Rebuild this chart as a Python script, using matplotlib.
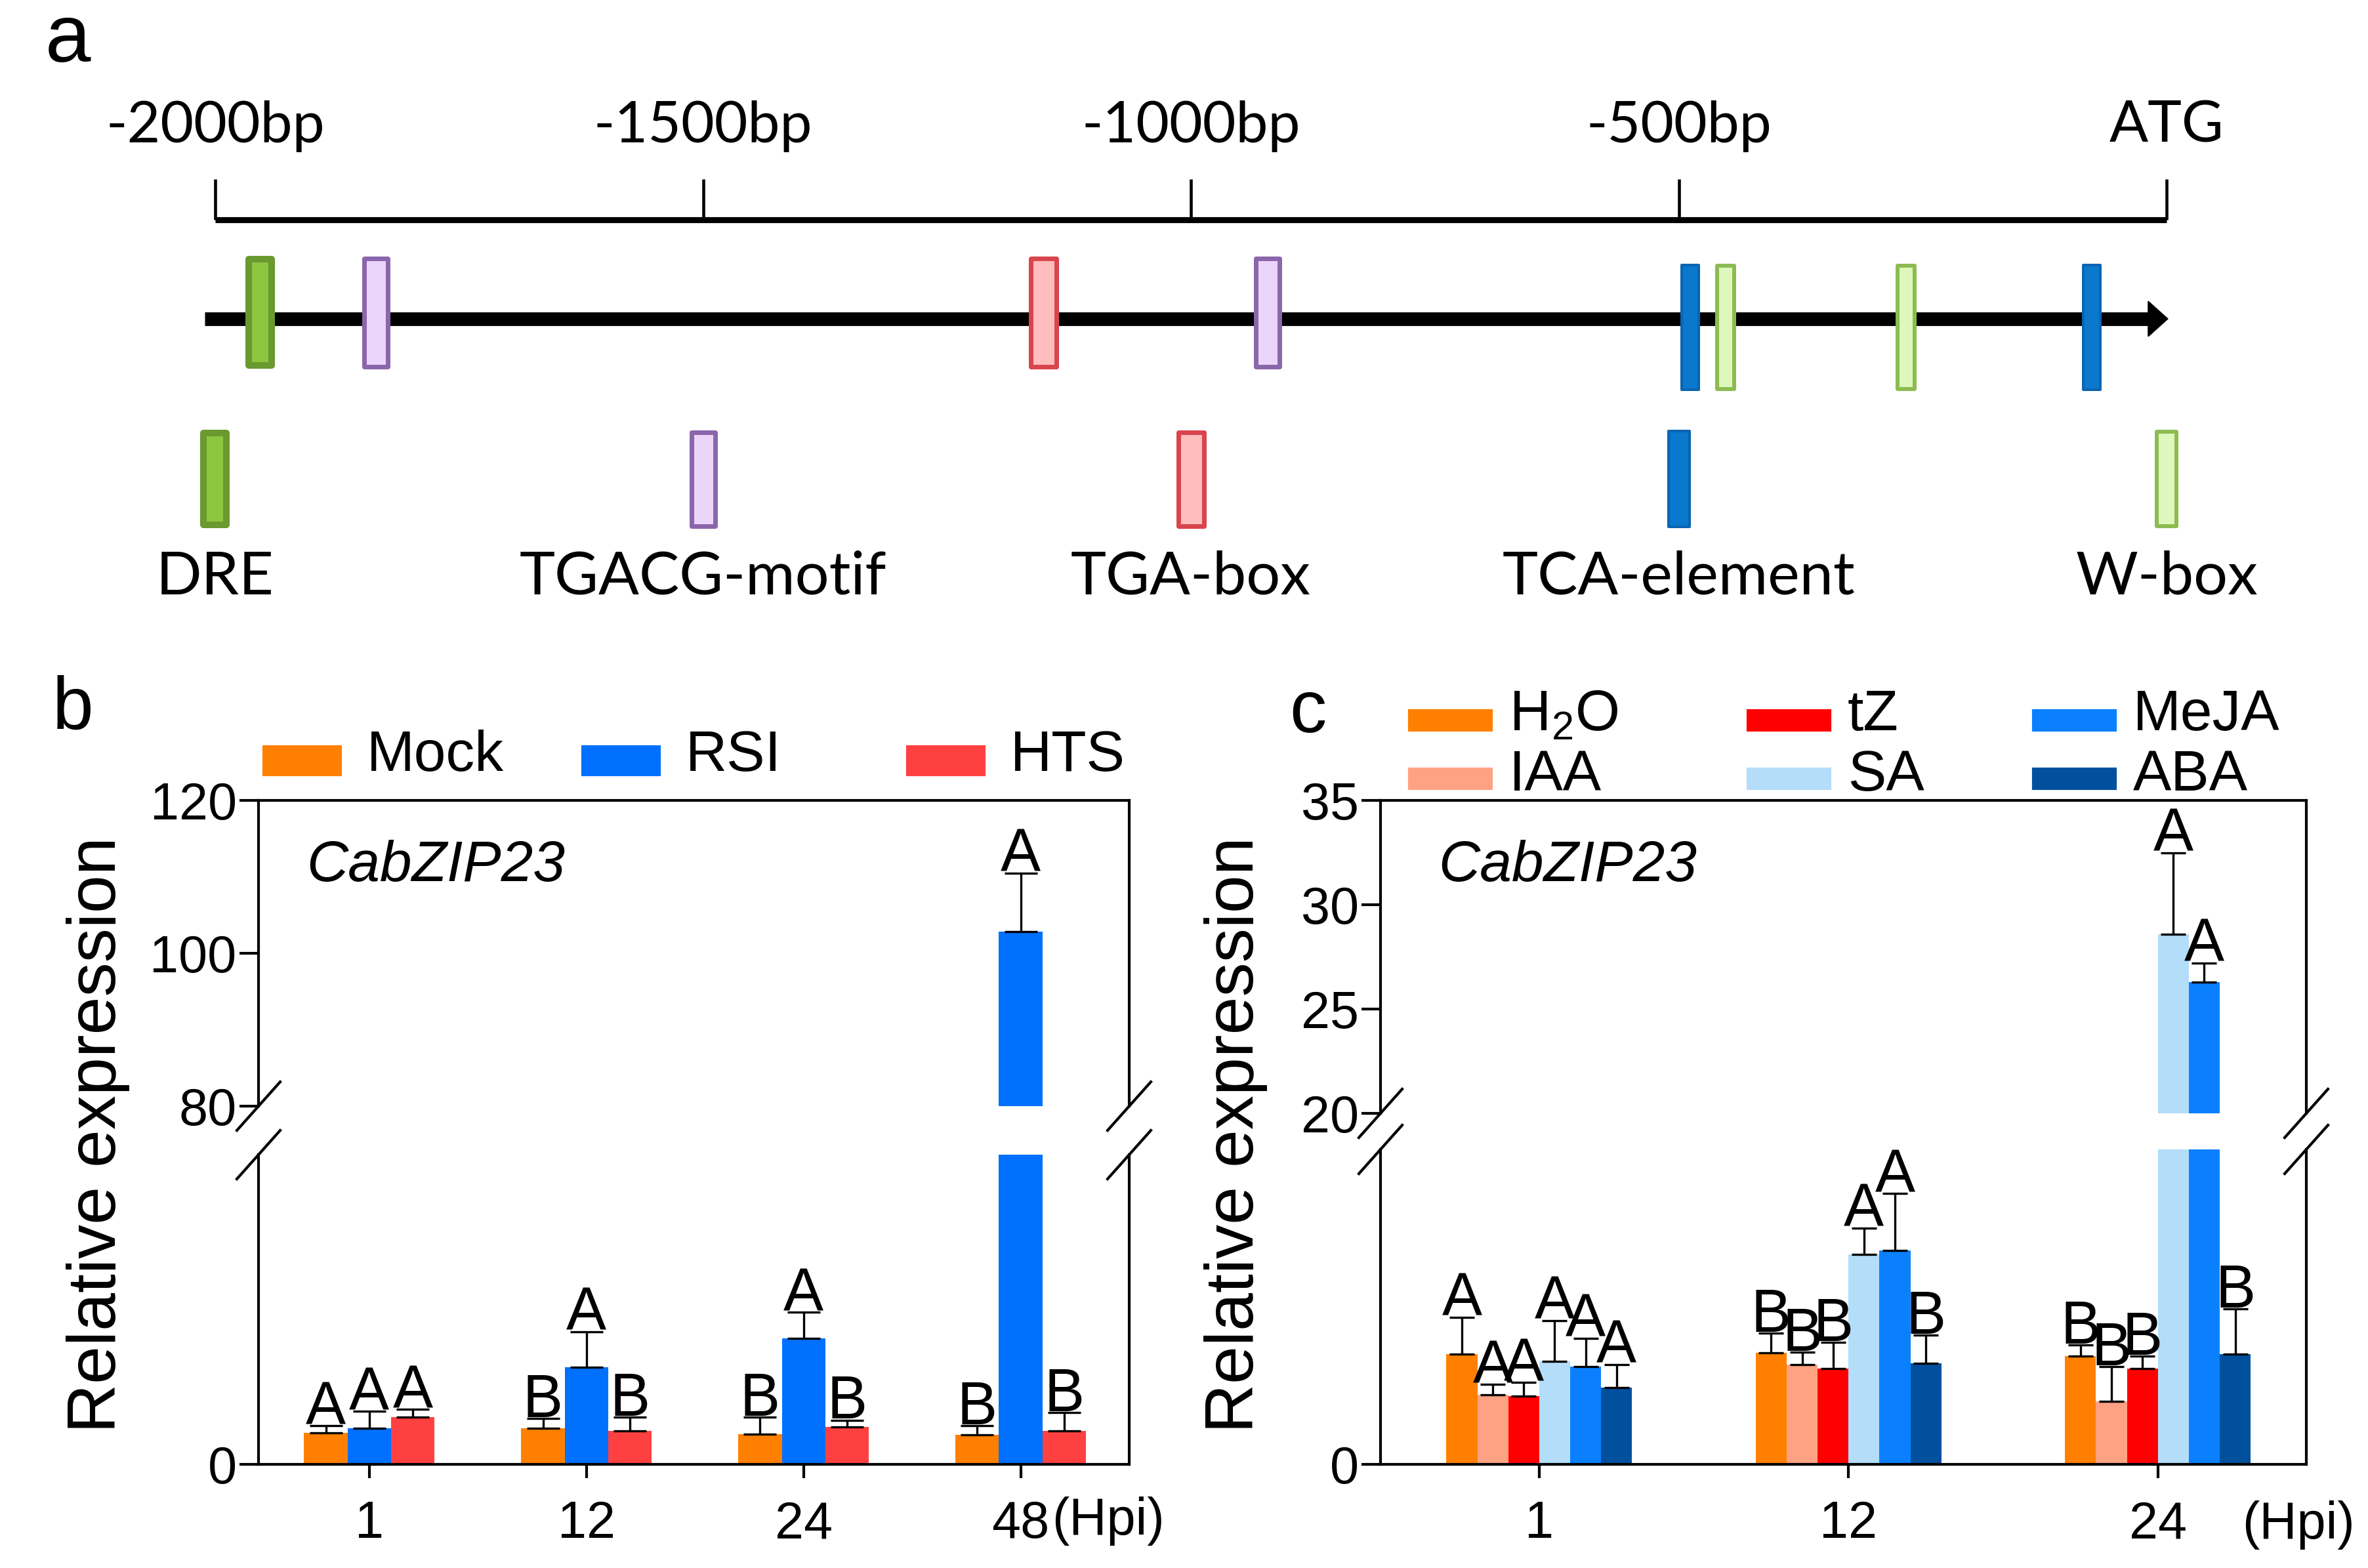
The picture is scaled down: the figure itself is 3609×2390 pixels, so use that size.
"""Promoter cis-elements of CabZIP23 and its relative expression (panels a-c)."""

import matplotlib
matplotlib.use("Agg")
import matplotlib.pyplot as plt
import numpy as np
from matplotlib.patches import Rectangle

plt.rcParams["font.family"] = ["Liberation Sans", "DejaVu Sans"]
plt.rcParams["mathtext.fontset"] = "custom"
plt.rcParams["mathtext.rm"] = "Liberation Sans"

W, H, DPI = 3609, 2390, 300

# ---- panel a: promoter map (bp upstream of ATG)
scale_ticks = [-2000, -1500, -1000, -500, 0]
scale_labels = ["-2000bp", "-1500bp", "-1000bp", "-500bp", "ATG"]
element_pos = [-1954, -1835, -1151, -921, -488, -452, -267, -77]
element_kind = ["DRE", "TGACG-motif", "TGA-box", "TGACG-motif",
                "TCA-element", "W-box", "W-box", "TCA-element"]
legend_kinds = ["DRE", "TGACG-motif", "TGA-box", "TCA-element", "W-box"]

# ---- panel b: RSI / HTS time course
b_times = ["1", "12", "24", "48"]
b_series = ["Mock", "RSI", "HTS"]
b_mean = {
    "Mock": [1.01, 1.16, 0.97, 0.95],
    "RSI": [1.16, 3.14, 4.06, 102.8],
    "HTS": [1.52, 1.07, 1.20, 1.07],
}
b_sd = {
    "Mock": [0.23, 0.33, 0.55, 0.29],
    "RSI": [0.55, 1.15, 0.85, 7.7],
    "HTS": [0.25, 0.45, 0.23, 0.61],
}
b_letters = {
    "Mock": ["A", "B", "B", "B"],
    "RSI": ["A", "A", "A", "A"],
    "HTS": ["A", "B", "B", "B"],
}

# ---- panel c: hormone treatments
c_times = ["1", "12", "24"]
c_series = ["H2O", "IAA", "tZ", "SA", "MeJA", "ABA"]
c_mean = {
    "H2O": [1.05, 1.06, 1.03],
    "IAA": [0.66, 0.95, 0.60],
    "tZ": [0.65, 0.91, 0.91],
    "SA": [0.98, 2.00, 28.6],
    "MeJA": [0.93, 2.04, 26.3],
    "ABA": [0.73, 0.96, 1.05],
}
c_sd = {
    "H2O": [0.35, 0.19, 0.11],
    "IAA": [0.10, 0.12, 0.33],
    "tZ": [0.13, 0.25, 0.12],
    "SA": [0.39, 0.25, 3.9],
    "MeJA": [0.27, 0.54, 0.9],
    "ABA": [0.22, 0.27, 0.43],
}
c_letters = {
    "H2O": ["A", "B", "B"],
    "IAA": ["A", "B", "B"],
    "tZ": ["A", "B", "B"],
    "SA": ["A", "A", "A"],
    "MeJA": ["A", "A", "A"],
    "ABA": ["A", "B", "B"],
}

B_COLORS = {"Mock": "#FF8000", "RSI": "#0070FF", "HTS": "#FF4040"}
C_COLORS = {"H2O": "#FF8000", "IAA": "#FFA283", "tZ": "#FF0000",
            "SA": "#B3DDF9", "MeJA": "#0A80FF", "ABA": "#00509E"}
C_LABELS = {"H2O": r"H$_{\rm 2}$O"}

ELEMENT_STYLE = {
    # width (px), top, bottom (px), face, edge, edge width (px)
    "DRE": (45, 390, 562, "#8DC63F", "#6A992F", 10),
    "TGACG-motif": (43, 390, 562, "#EBD5FA", "#8B66AC", 7),
    "TGA-box": (46, 390, 562, "#FFBDBD", "#D8454C", 7),
    "TCA-element": (30, 402, 596, "#0A78CC", "#0B65B0", 4),
    "W-box": (32, 402, 596, "#DDF7BD", "#8DBB52", 6),
}

PX_PER_BP = (3302 - 328) / 2000.0


def px2pt(px):
    return px * 72.0 / DPI


def fig_rect(x0, y0, x1, y1):
    return [x0 / W, 1 - y1 / H, (x1 - x0) / W, (y1 - y0) / H]


def fig_xy(x, y):
    return x / W, 1 - y / H


def draw_promoter(fig):
    ax = fig.add_axes([0, 1 - 950 / H, 1, 950 / H])
    ax.set_xlim(-2000 - 328 / PX_PER_BP, -2000 + (W - 328) / PX_PER_BP)
    ax.set_ylim(950, 0)
    ax.axis("off")

    ax.plot([scale_ticks[0], scale_ticks[-1]], [335, 335], color="k", lw=2.2,
            solid_capstyle="butt")
    ax.vlines(scale_ticks, 273, 335, color="k", lw=1.1)
    for x, lab in zip(scale_ticks, scale_labels):
        ax.text(x, 192, lab, ha="center", va="center", fontsize=21, family="Lato")

    ax.plot([-2011, -18], [486, 486], color="k", lw=5.0, solid_capstyle="butt")
    ax.annotate("", xy=(2, 486), xytext=(-22, 486),
                arrowprops=dict(arrowstyle="-|>,head_length=0.5,head_width=0.45",
                                mutation_scale=14, color="k", lw=0.5,
                                shrinkA=0, shrinkB=0))

    for pos, kind in zip(element_pos, element_kind):
        w, top, bot, face, edge, ew = ELEMENT_STYLE[kind]
        wd = (w - ew) / PX_PER_BP
        ax.add_patch(Rectangle((pos - wd / 2, top + ew / 2), wd, bot - top - ew,
                               facecolor=face, edgecolor=edge, lw=px2pt(ew),
                               joinstyle="round", zorder=3))

    for x, kind in zip(scale_ticks, legend_kinds):
        w, _, _, face, edge, ew = ELEMENT_STYLE[kind]
        w = max(w, 36) if kind != "DRE" else w
        wd = (w - ew) / PX_PER_BP
        ax.add_patch(Rectangle((x - wd / 2, 655 + ew / 2), wd, 150 - ew,
                               facecolor=face, edgecolor=edge, lw=px2pt(ew),
                               joinstyle="round", zorder=3))
        ax.text(x, 880, kind, ha="center", va="center", fontsize=22, family="Lato")


def break_marks(ax, at_bottom, wpx, hpx):
    dx, dy = 33 / wpx, 37 / hpx
    y = 0 if at_bottom else 1
    for x in (0, 1):
        ax.plot([x - dx, x + dx], [y - dy, y + dy], transform=ax.transAxes,
                color="k", lw=1.0, clip_on=False)


def draw_broken_bars(fig, box, times, series, means, sds, letters, colors,
                     lower_max, upper_lim, upper_ticks, width, xlim, capsize):
    x0, y_top, x1, y_ub, y_lt, y_bot = box
    ax_up = fig.add_axes(fig_rect(x0, y_top, x1, y_ub))
    ax_lo = fig.add_axes(fig_rect(x0, y_lt, x1, y_bot))
    n = len(series)
    xs = np.arange(len(times))
    for ax in (ax_up, ax_lo):
        for i, s in enumerate(series):
            xi = xs + (i - (n - 1) / 2) * width
            ax.bar(xi, means[s], width, color=colors[s], zorder=2)
            ax.errorbar(xi, means[s], yerr=[np.zeros(len(xs)), sds[s]], fmt="none",
                        ecolor="k", elinewidth=0.8, capsize=capsize, capthick=0.8,
                        zorder=3)
        ax.set_xlim(*xlim)
        for sp in ax.spines.values():
            sp.set_linewidth(1.0)
        ax.tick_params(axis="y", direction="out", length=7, width=1.0,
                       labelsize=19, pad=1)
    ax_up.set_ylim(*upper_lim)
    ax_lo.set_ylim(0, lower_max)
    ax_up.set_yticks(upper_ticks)
    ax_lo.set_yticks([0])
    ax_up.spines["bottom"].set_visible(False)
    ax_lo.spines["top"].set_visible(False)
    ax_up.set_xticks([])
    ax_lo.set_xticks(xs)
    ax_lo.set_xticklabels(times)
    ax_lo.tick_params(axis="x", direction="out", length=5, width=1.0,
                      labelsize=19, pad=8)

    for i, s in enumerate(series):
        for j in range(len(xs)):
            xi = xs[j] + (i - (n - 1) / 2) * width
            top = means[s][j] + sds[s][j]
            ax = ax_up if top > lower_max else ax_lo
            ax.annotate(letters[s][j], (xi, top), xytext=(0, 0.5),
                        textcoords="offset points", ha="center", va="baseline",
                        fontsize=22)

    break_marks(ax_up, True, x1 - x0, y_ub - y_top)
    break_marks(ax_lo, False, x1 - x0, y_bot - y_lt)
    return ax_up, ax_lo


def main():
    fig = plt.figure(figsize=(W / DPI, H / DPI), dpi=DPI)

    fig.text(*fig_xy(104, 62), "a", fontsize=30, ha="center", va="center")
    draw_promoter(fig)

    # panel b
    fig.text(*fig_xy(111, 1082), "b", fontsize=27, ha="center", va="center")
    draw_broken_bars(fig, (394, 1220, 1721, 1686, 1760, 2232), b_times, b_series,
                     b_mean, b_sd, b_letters, B_COLORS, lower_max=10,
                     upper_lim=(80, 120), upper_ticks=[80, 100, 120], width=0.2,
                     xlim=(-0.51, 3.5), capsize=6)
    fig.text(*fig_xy(1603, 2319), "(Hpi)", fontsize=19, ha="left", va="center")
    fig.text(*fig_xy(150, 1730), "Relative expression", fontsize=25,
             rotation=90, ha="center", va="center")
    fig.text(*fig_xy(467, 1320), "CabZIP23", fontsize=21, style="italic",
             ha="left", va="center")
    for s, x in zip(b_series, [402, 888, 1383]):
        fig.add_artist(Rectangle(fig_xy(x, 1181), 117 / W, 43 / H,
                                 transform=fig.transFigure, color=B_COLORS[s]))
        fig.text(*fig_xy(x + 157, 1152), s, fontsize=21, ha="left", va="center")

    # panel c
    fig.text(*fig_xy(1993, 1087), "c", fontsize=27, ha="center", va="center")
    draw_broken_bars(fig, (2104, 1220, 3515, 1697, 1752, 2232), c_times, c_series,
                     c_mean, c_sd, c_letters, C_COLORS, lower_max=3,
                     upper_lim=(20, 35), upper_ticks=[20, 25, 30, 35], width=0.1,
                     xlim=(-0.513, 2.48), capsize=4.5)
    fig.text(*fig_xy(3417, 2324), "(Hpi)", fontsize=19, ha="left", va="center")
    fig.text(*fig_xy(1884, 1730), "Relative expression", fontsize=25,
             rotation=90, ha="center", va="center")
    fig.text(*fig_xy(2192, 1320), "CabZIP23", fontsize=21, style="italic",
             ha="left", va="center")
    cols = [2148, 2664, 3099]
    rows = [(1083, 1091), (1172, 1183)]
    for k, s in enumerate(c_series):
        x = cols[k // 2]
        py, ty = rows[k % 2]
        fig.add_artist(Rectangle(fig_xy(x, py + 30), 125 / W, 30 / H,
                                 transform=fig.transFigure, color=C_COLORS[s]))
        fig.text(*fig_xy(x + 152, ty), C_LABELS.get(s, s), fontsize=21,
                 ha="left", va="center")

    fig.savefig("out.png", dpi=DPI)
    plt.close(fig)


if __name__ == "__main__":
    main()
